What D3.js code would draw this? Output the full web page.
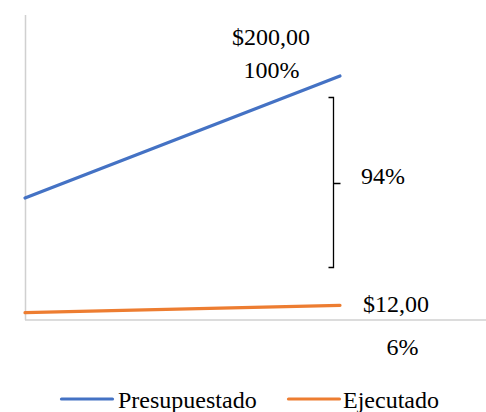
<!DOCTYPE html>
<html>
<head>
<meta charset="utf-8">
<script src="https://cdn.jsdelivr.net/npm/d3@7"></script>
<style>
  html, body { margin: 0; padding: 0; background: #fff; }
  svg { display: block; }
</style>
</head>
<body>
<svg id="chart" width="486" height="412"></svg>
<script>
// Periods along the x axis (not labelled)
const periods = ["Inicio", "Cierre"];
// Series values
const presupuestado = [100, 200];
const ejecutado = [6, 12];
const seriesNames = ["Presupuestado", "Ejecutado"];
const seriesColors = ["#4472C4", "#ED7D31"];
// Annotation texts
const endLabels = ["$200,00", "$12,00"];
const pctLabels = ["100%", "6%"];
const gapLabel = "94%";
const yDomain = [0, 250];

const svg = d3.select("#chart");
const fontSize = 24;
const serif = "'Liberation Serif', 'Times New Roman', Times, serif";

const x = d3.scalePoint().domain(periods).range([25, 340]);
const y = d3.scaleLinear().domain(yDomain).range([320, 15]);

// Axes lines (no ticks)
svg.append("line")
  .attr("x1", 25.5).attr("x2", 25.5)
  .attr("y1", y(yDomain[1])).attr("y2", y(0))
  .attr("stroke", "#d0d0d0").attr("stroke-width", 1.5);
svg.append("line")
  .attr("x1", 25).attr("x2", 486)
  .attr("y1", y(0)).attr("y2", y(0))
  .attr("stroke", "#d0d0d0").attr("stroke-width", 1.5);

// Series lines
const line = d3.line()
  .x((d, i) => x(periods[i]))
  .y(d => y(d));

[presupuestado, ejecutado].forEach((vals, k) => {
  svg.append("path")
    .datum(vals)
    .attr("d", line)
    .attr("fill", "none")
    .attr("stroke", seriesColors[k])
    .attr("stroke-width", 3.2)
    .attr("stroke-linecap", "round");
});

function label(xp, yp, txt, anchor) {
  svg.append("text").attr("x", xp).attr("y", yp)
    .attr("text-anchor", anchor || "start")
    .attr("font-family", serif)
    .attr("font-size", fontSize)
    .attr("fill", "#000")
    .text(txt);
}

// Value labels
label(271, 45, endLabels[0], "middle");
label(271.5, 78, pctLabels[0], "middle");
label(363, 312, endLabels[1]);
label(402.5, 355, pctLabels[1], "middle");

// Bracket showing the gap between budget and execution
const bx = 333.5, bTop = 97.5, bBot = 267.5, bMid = 183.5;
svg.append("path")
  .attr("d", `M${bx - 5},${bTop} H${bx} V${bBot} H${bx - 5} M${bx},${bMid} H${bx + 7}`)
  .attr("fill", "none").attr("stroke", "#000").attr("stroke-width", 1.3);
label(361, 184, gapLabel);

// Legend
const legend = [
  { x: 60, tx: 118 },
  { x: 287, tx: 343 }
];
legend.forEach((l, k) => {
  svg.append("line")
    .attr("x1", l.x + 1.5).attr("x2", l.x + 52.5)
    .attr("y1", 399).attr("y2", 399)
    .attr("stroke", seriesColors[k]).attr("stroke-width", 3.2)
    .attr("stroke-linecap", "round");
  label(l.tx, 408, seriesNames[k]);
});
</script>
</body>
</html>
